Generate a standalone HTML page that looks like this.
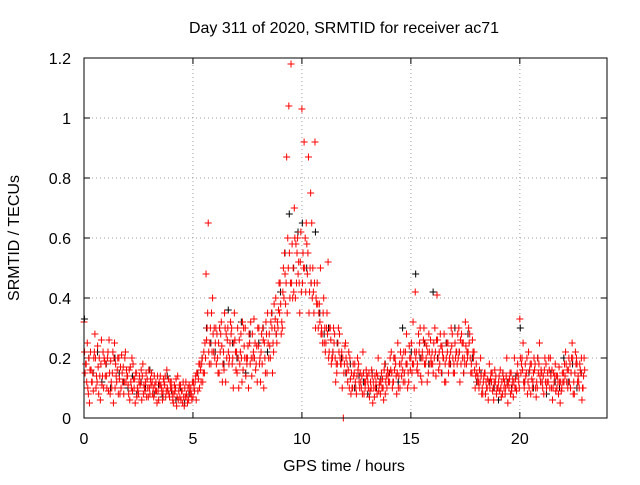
<!DOCTYPE html>
<html><head><meta charset="utf-8"><style>
html,body{margin:0;padding:0;background:#fff;}
svg text{font-family:"Liberation Sans",sans-serif;font-size:16px;fill:#000;}
</style></head><body>
<svg id="chart" width="640" height="480" xmlns="http://www.w3.org/2000/svg">
<rect width="640" height="480" fill="#fff"/>
<text x="344" y="33" text-anchor="middle">Day 311 of 2020, SRMTID for receiver ac71</text>
<text x="344" y="471" text-anchor="middle">GPS time / hours</text>
<text transform="translate(19,238) rotate(-90)" text-anchor="middle">SRMTID / TECUs</text>
<g id="grid"></g>
<g id="ticks"></g>
<g id="marks"></g>
<rect x="84" y="58" width="523" height="360" fill="none" stroke="#000" stroke-width="1"/>
</svg>
<script>
const xTicks = [0,5,10,15,20];
const yTicks = [0,0.2,0.4,0.6,0.8,1,1.2];
const yTickLabels = ["0","0.2","0.4","0.6","0.8","1","1.2"];
const redStart1 = 0, redStart2 = 0.05, redStart3 = 0.025, redStart4 = 0.075, redStep = 0.1;
const blackStart = 0.02, blackStep = 0.2;
const redValues1 = [
0.32,0.18,0.08,0.22,0.15,0.28,0.12,0.2,0.26,0.1,
0.18,0.22,0.08,0.15,0.25,0.12,0.2,0.1,0.17,0.22,
0.14,0.06,0.2,0.1,0.15,0.08,0.12,0.18,0.09,0.13,
0.1,0.15,0.07,0.12,0.09,0.14,0.06,0.11,0.16,0.08,
0.12,0.05,0.1,0.14,0.07,0.09,0.04,0.08,0.06,0.1,
0.07,0.12,0.15,0.1,0.18,0.22,0.48,0.65,0.3,0.4,
0.2,0.28,0.15,0.32,0.22,0.12,0.3,0.25,0.18,0.35,
0.22,0.1,0.28,0.16,0.3,0.2,0.25,0.14,0.33,0.18,
0.24,0.12,0.3,0.2,0.15,0.28,0.35,0.22,0.4,0.3,
0.45,0.3,0.55,0.87,1.04,1.18,0.5,0.4,0.6,0.35,
1.03,0.92,0.65,0.87,0.75,0.5,0.92,0.45,0.38,0.3,
0.4,0.25,0.52,0.3,0.2,0.28,0.15,0.22,0.18,0.0,
0.25,0.12,0.2,0.1,0.15,0.08,0.18,0.12,0.22,0.1,
0.14,0.07,0.16,0.1,0.12,0.2,0.08,0.13,0.18,0.1,
0.15,0.22,0.12,0.18,0.25,0.1,0.2,0.15,0.28,0.12,
0.2,0.32,0.42,0.18,0.25,0.12,0.3,0.2,0.15,0.26,
0.18,0.3,0.41,0.22,0.15,0.2,0.12,0.25,0.18,0.28,
0.15,0.22,0.3,0.18,0.25,0.32,0.2,0.28,0.15,0.22,
0.18,0.12,0.2,0.08,0.15,0.1,0.18,0.12,0.06,0.14,
0.1,0.16,0.08,0.12,0.2,0.1,0.15,0.07,0.13,0.18,
0.33,0.2,0.1,0.15,0.22,0.08,0.12,0.18,0.1,0.25,
0.15,0.08,0.18,0.12,0.2,0.06,0.14,0.1,0.17,0.09,
0.15,0.22,0.1,0.18,0.25,0.08,0.2,0.12,0.15,0.1];
const redValues2 = [
0.15,0.25,0.05,0.12,0.2,0.1,0.17,0.06,0.14,0.19,
0.1,0.26,0.12,0.05,0.18,0.2,0.08,0.15,0.12,0.16,
0.08,0.12,0.18,0.05,0.1,0.14,0.06,0.11,0.15,0.07,
0.13,0.08,0.11,0.05,0.12,0.1,0.13,0.07,0.09,0.12,
0.08,0.11,0.04,0.09,0.06,0.12,0.07,0.05,0.09,0.06,
0.1,0.06,0.13,0.16,0.12,0.25,0.3,0.18,0.35,0.22,
0.3,0.15,0.22,0.12,0.35,0.2,0.18,0.28,0.1,0.22,
0.3,0.18,0.12,0.24,0.2,0.1,0.32,0.2,0.25,0.12,
0.18,0.28,0.1,0.32,0.25,0.2,0.15,0.3,0.25,0.45,
0.28,0.5,0.38,0.6,0.4,0.58,0.7,0.45,0.52,0.62,
0.55,0.6,0.48,0.42,0.65,0.35,0.4,0.3,0.5,0.25,
0.3,0.35,0.22,0.18,0.3,0.12,0.25,0.2,0.1,0.18,
0.15,0.22,0.08,0.18,0.12,0.2,0.1,0.14,0.08,0.16,
0.1,0.12,0.05,0.14,0.08,0.11,0.15,0.06,0.12,0.14,
0.2,0.1,0.16,0.08,0.14,0.18,0.12,0.22,0.1,0.2,
0.15,0.1,0.22,0.28,0.14,0.2,0.25,0.12,0.22,0.18,
0.25,0.14,0.2,0.28,0.22,0.12,0.25,0.18,0.3,0.15,
0.2,0.28,0.12,0.25,0.2,0.18,0.3,0.15,0.22,0.1,
0.12,0.16,0.08,0.14,0.12,0.06,0.13,0.09,0.16,0.1,
0.14,0.07,0.13,0.1,0.05,0.15,0.11,0.2,0.09,0.12,
0.15,0.25,0.18,0.08,0.16,0.13,0.2,0.07,0.15,0.12,
0.1,0.2,0.12,0.16,0.1,0.15,0.09,0.12,0.05,0.15,
0.18,0.12,0.2,0.15,0.08,0.22,0.12,0.18,0.06,0.2];
const redValues3 = [
0.22,0.12,0.2,0.16,0.09,0.2,0.24,0.14,0.11,0.2,
0.14,0.09,0.19,0.22,0.1,0.16,0.13,0.21,0.08,0.12,
0.11,0.17,0.09,0.13,0.07,0.12,0.16,0.08,0.12,0.1,
0.08,0.12,0.14,0.09,0.06,0.11,0.09,0.14,0.1,0.07,
0.1,0.08,0.13,0.06,0.11,0.05,0.1,0.07,0.11,0.08,
0.12,0.14,0.09,0.18,0.2,0.15,0.26,0.22,0.18,0.28,
0.25,0.2,0.3,0.24,0.16,0.28,0.22,0.32,0.2,0.26,
0.15,0.26,0.2,0.3,0.14,0.24,0.18,0.28,0.2,0.24,
0.3,0.22,0.26,0.15,0.35,0.24,0.3,0.38,0.28,0.36,
0.38,0.42,0.48,0.35,0.55,0.45,0.42,0.58,0.48,0.52,
0.45,0.5,0.58,0.35,0.45,0.42,0.3,0.38,0.32,0.28,
0.25,0.3,0.2,0.26,0.22,0.2,0.18,0.28,0.22,0.15,
0.2,0.16,0.13,0.1,0.18,0.14,0.12,0.1,0.15,0.12,
0.12,0.09,0.14,0.07,0.15,0.09,0.12,0.1,0.08,0.16,
0.12,0.15,0.2,0.14,0.1,0.22,0.16,0.12,0.18,0.24,
0.25,0.18,0.2,0.15,0.3,0.22,0.18,0.24,0.28,0.2,
0.15,0.22,0.26,0.18,0.24,0.28,0.2,0.15,0.22,0.2,
0.25,0.18,0.22,0.28,0.15,0.24,0.22,0.2,0.26,0.16,
0.15,0.1,0.14,0.12,0.08,0.13,0.1,0.15,0.12,0.08,
0.12,0.1,0.15,0.08,0.11,0.13,0.09,0.12,0.1,0.14,
0.2,0.16,0.12,0.2,0.1,0.18,0.15,0.1,0.2,0.14,
0.12,0.16,0.1,0.2,0.14,0.1,0.18,0.14,0.12,0.1,
0.12,0.18,0.16,0.1,0.2,0.15,0.18,0.1,0.2,0.14];
const redValues4 = [
0.18,0.1,0.16,0.12,0.22,0.14,0.08,0.18,0.22,0.14,
0.2,0.15,0.1,0.2,0.14,0.08,0.17,0.12,0.2,0.14,
0.16,0.1,0.13,0.15,0.09,0.11,0.14,0.1,0.07,0.16,
0.11,0.1,0.09,0.14,0.11,0.08,0.12,0.09,0.13,0.1,
0.06,0.09,0.07,0.11,0.09,0.07,0.12,0.1,0.08,0.12,
0.09,0.15,0.18,0.12,0.15,0.2,0.35,0.25,0.22,0.3,
0.18,0.25,0.28,0.18,0.3,0.26,0.2,0.3,0.25,0.16,
0.2,0.22,0.32,0.2,0.18,0.28,0.2,0.22,0.16,0.3,
0.2,0.18,0.25,0.28,0.2,0.32,0.25,0.33,0.32,0.35,
0.32,0.4,0.45,0.5,0.45,0.4,0.6,0.55,0.45,0.42,
0.5,0.42,0.55,0.5,0.4,0.45,0.38,0.35,0.28,0.35,
0.22,0.28,0.3,0.2,0.25,0.18,0.3,0.18,0.2,0.24,
0.18,0.1,0.15,0.14,0.1,0.16,0.15,0.08,0.12,0.14,
0.15,0.1,0.12,0.1,0.14,0.12,0.1,0.16,0.14,0.12,
0.16,0.12,0.2,0.15,0.18,0.14,0.22,0.18,0.15,0.16,
0.18,0.22,0.16,0.22,0.2,0.26,0.18,0.22,0.18,0.22,
0.2,0.26,0.16,0.24,0.2,0.18,0.22,0.2,0.24,0.18,
0.22,0.2,0.26,0.2,0.18,0.22,0.25,0.18,0.2,0.14,
0.14,0.12,0.1,0.15,0.1,0.12,0.15,0.1,0.12,0.1,
0.09,0.12,0.1,0.14,0.12,0.08,0.13,0.1,0.15,0.1,
0.18,0.12,0.14,0.12,0.18,0.1,0.16,0.12,0.18,0.16,
0.14,0.12,0.15,0.1,0.16,0.12,0.14,0.08,0.12,0.12,
0.14,0.16,0.12,0.2,0.12,0.18,0.14,0.16,0.1,0.16];
const blackValues = [
0.33,0.2,0.15,0.22,0.12,0.18,0.1,0.2,0.15,0.12,
0.1,0.14,0.08,0.12,0.1,0.16,0.08,0.11,0.07,0.14,
0.09,0.06,0.1,0.05,0.08,0.12,0.15,0.2,0.3,0.25,
0.22,0.3,0.18,0.36,0.25,0.2,0.32,0.15,0.28,0.2,
0.25,0.3,0.22,0.35,0.28,0.42,0.55,0.68,0.5,0.62,
0.65,0.5,0.45,0.62,0.35,0.28,0.3,0.22,0.25,0.2,
0.15,0.18,0.1,0.14,0.12,0.08,0.15,0.1,0.13,0.18,
0.15,0.2,0.12,0.3,0.18,0.22,0.48,0.2,0.25,0.18,
0.42,0.2,0.15,0.25,0.18,0.3,0.22,0.15,0.28,0.2,
0.12,0.15,0.08,0.12,0.1,0.06,0.15,0.12,0.1,0.14,
0.3,0.12,0.15,0.1,0.2,0.12,0.08,0.15,0.12,0.1,
0.2,0.12,0.18,0.1,0.15];

const X0=84, X1=607, Y0=418, Y1=58, XMAX=24, YMAX=1.2;
function xs(v){return X0+(X1-X0)*v/XMAX;}
function ys(v){return Y0-(Y0-Y1)*v/YMAX;}
const NS="http://www.w3.org/2000/svg";
const grid=document.getElementById('grid'), ticks=document.getElementById('ticks'), marks=document.getElementById('marks');
function mk(tag,attrs,parent){const e=document.createElementNS(NS,tag);for(const k in attrs)e.setAttribute(k,attrs[k]);parent.appendChild(e);return e;}
xTicks.forEach(function(t){
  const x=xs(t);
  if(t>0){const g=mk('line',{x1:x,y1:Y0,x2:x,y2:Y1,stroke:'#a0a0a0','stroke-dasharray':'1,3'},grid);
  
  }
  mk('line',{x1:x,y1:Y0,x2:x,y2:Y0-6,stroke:'#000'},ticks);
  mk('line',{x1:x,y1:Y1,x2:x,y2:Y1+6,stroke:'#000'},ticks);
  const tx=mk('text',{x:x,y:Y0+26,'text-anchor':'middle'},ticks);tx.textContent=String(t);
  
  
});
yTicks.forEach(function(t,i){
  const y=ys(t);
  if(t>0&&t<YMAX){const g=mk('line',{x1:X0,y1:y,x2:X1,y2:y,stroke:'#a0a0a0','stroke-dasharray':'1,3'},grid);
  
  }
  mk('line',{x1:X0,y1:y,x2:X0+6,y2:y,stroke:'#000'},ticks);
  mk('line',{x1:X1,y1:y,x2:X1-6,y2:y,stroke:'#000'},ticks);
  const tx=mk('text',{x:71,y:y+6,'text-anchor':'end'},ticks);tx.textContent=yTickLabels[i];
  
  
});
function series(vals,start,step,color,name){
  let d='';
  vals.forEach(function(v,i){const x=xs(start+i*step), y=ys(v);
    d+='M'+(x-3.5)+' '+y+'h7M'+x+' '+(y-3.5)+'v7';});
  const p=mk('path',{d:d,stroke:color,'stroke-width':1,fill:'none'},marks);
  
  
}
series(blackValues,blackStart,blackStep,'#000','series-black-points');
series(redValues3,redStart3,redStep,'#ff0000','series-red-points-c');
series(redValues4,redStart4,redStep,'#ff0000','series-red-points-d');
series(redValues1,redStart1,redStep,'#ff0000','series-red-points-a');
series(redValues2,redStart2,redStep,'#ff0000','series-red-points-b');
</script>
</body></html>
